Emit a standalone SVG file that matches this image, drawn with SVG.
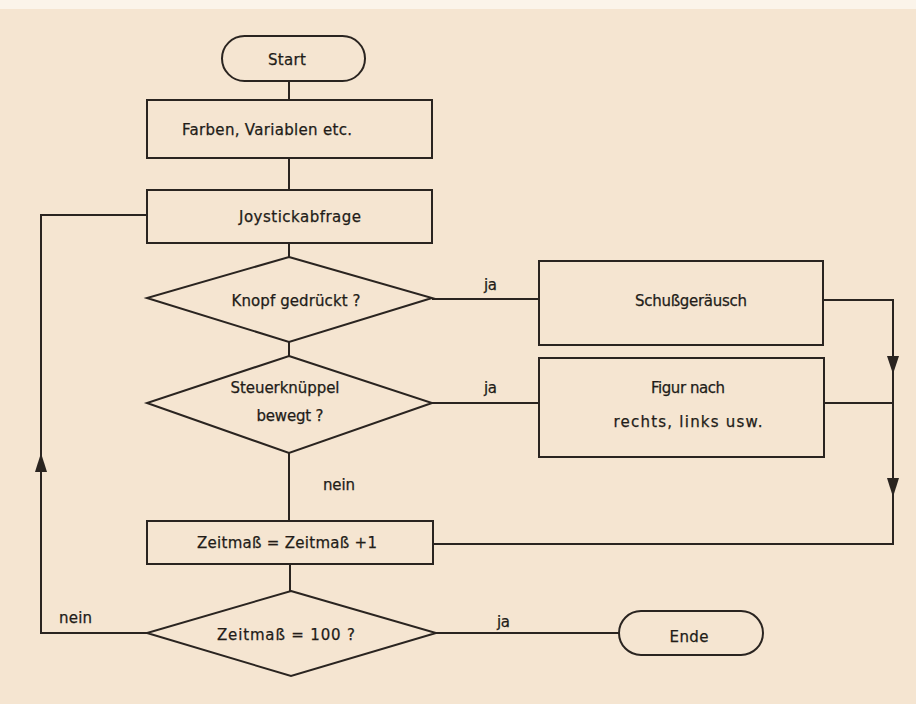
<svg xmlns="http://www.w3.org/2000/svg" width="916" height="704" viewBox="0 0 916 704">
<style>
.s{fill:none;stroke:#2a2420;stroke-width:2}
.t{font-family:"DejaVu Sans","Liberation Sans",sans-serif;font-size:15px;fill:#221c18;stroke:#221c18;stroke-width:0.25;text-anchor:middle}
.l{font-family:"DejaVu Sans","Liberation Sans",sans-serif;font-size:15px;fill:#221c18;stroke:#221c18;stroke-width:0.25}
.a{fill:#2a2420}
</style>
<rect x="0" y="0" width="916" height="704" fill="#f5e5d1"/>
<rect x="0" y="0" width="916" height="9" fill="#fbf4ea"/>

<g id="connectors">
<line class="s" x1="289" y1="81" x2="289" y2="100"/>
<line class="s" x1="289" y1="158" x2="289" y2="190"/>
<line class="s" x1="289" y1="243" x2="289" y2="257"/>
<line class="s" x1="289" y1="342" x2="289" y2="356"/>
<line class="s" x1="289" y1="453" x2="289" y2="521"/>
<line class="s" x1="290" y1="564" x2="290" y2="591"/>
<line class="s" x1="432" y1="299" x2="539" y2="299"/>
<line class="s" x1="432" y1="403" x2="539" y2="403"/>
<polyline class="s" points="823,300 893,300 893,544 433,544"/>
<line class="s" x1="824" y1="403" x2="893" y2="403"/>
<polygon class="a" points="887,356 899,356 893,374"/>
<polygon class="a" points="887,478 899,478 893,497"/>
<polyline class="s" points="147,633 41,633 41,215 147,215"/>
<polygon class="a" points="35,472 47,472 41,453"/>
<line class="s" x1="436" y1="633" x2="619" y2="633"/>
<text class="l" x="484" y="290" textLength="13">ja</text>
<text class="l" x="484" y="393" textLength="13">ja</text>
<text class="l" x="323" y="490" textLength="32">nein</text>
<text class="l" x="59" y="623" textLength="33">nein</text>
<text class="l" x="497" y="627" textLength="13">ja</text>
</g>

<g id="start">
<rect class="s" x="222" y="36" width="143" height="45" rx="22.5"/>
<text class="t" x="287" y="65" textLength="38">Start</text>
</g>
<g id="init">
<rect class="s" x="147" y="100" width="285" height="58"/>
<text class="t" x="267" y="135" textLength="170">Farben, Variablen etc.</text>
</g>
<g id="joystick">
<rect class="s" x="147" y="190" width="285" height="53"/>
<text class="t" x="300" y="222" textLength="122">Joystickabfrage</text>
</g>
<g id="knopf">
<polygon class="s" points="289,257 432,298 289,342 147,298"/>
<text class="t" x="296" y="306" textLength="129">Knopf gedrückt ?</text>
</g>
<g id="steuer">
<polygon class="s" points="289,356 432,403 289,453 147,403"/>
<text class="t" x="285" y="393" textLength="109">Steuerknüppel</text>
<text class="t" x="290" y="421" textLength="67">bewegt ?</text>
</g>
<g id="schuss">
<rect class="s" x="539" y="261" width="284" height="84"/>
<text class="t" x="691" y="306" textLength="112">Schußgeräusch</text>
</g>
<g id="figur">
<rect class="s" x="539" y="358" width="285" height="99"/>
<text class="t" x="688" y="393" textLength="74">Figur nach</text>
<text class="t" x="688" y="427" textLength="149">rechts, links usw.</text>
</g>
<g id="zeitmass">
<rect class="s" x="147" y="521" width="286" height="43"/>
<text class="t" x="287" y="548" textLength="180">Zeitmaß = Zeitmaß +1</text>
</g>
<g id="test">
<polygon class="s" points="291,591 436,633 291,676 147,633"/>
<text class="t" x="286" y="640" textLength="138">Zeitmaß = 100 ?</text>
</g>
<g id="ende">
<rect class="s" x="619" y="611" width="144" height="44" rx="22"/>
<text class="t" x="689" y="642" textLength="39">Ende</text>
</g>
</svg>
